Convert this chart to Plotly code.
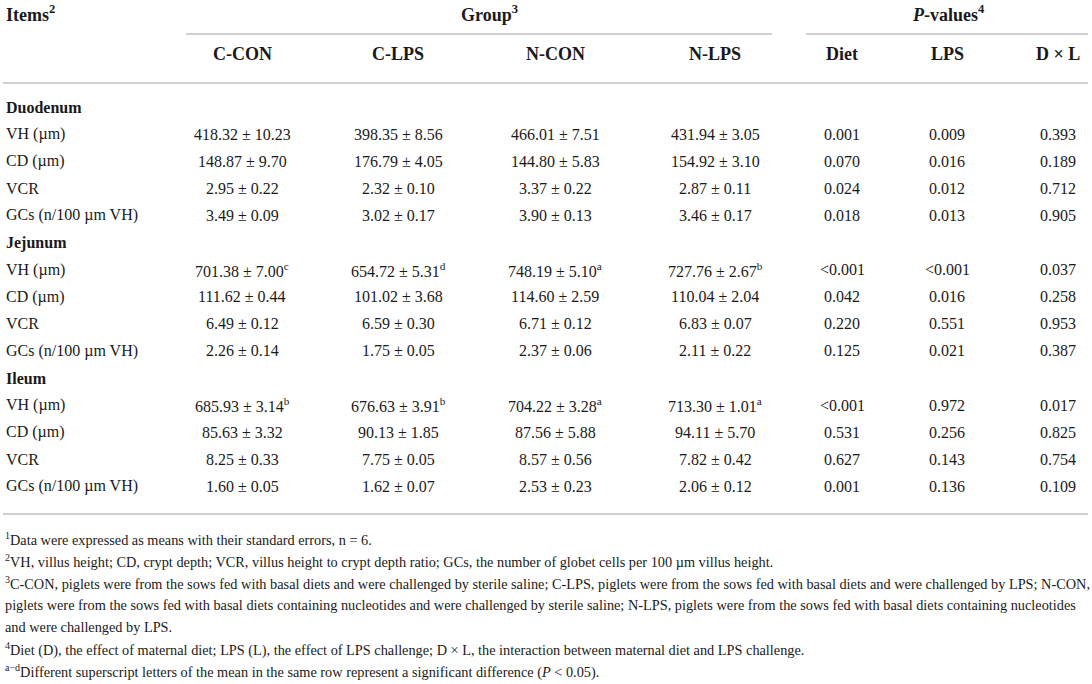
import plotly.graph_objects as go

# table content
sections = ["Duodenum", "Jejunum", "Ileum"]
items = ["VH (µm)", "CD (µm)", "VCR", "GCs (n/100 µm VH)"]
groups = ["C-CON", "C-LPS", "N-CON", "N-LPS"]
effects = ["Diet", "LPS", "D × L"]

duodenum_mean = [[418.32, 398.35, 466.01, 431.94],
                 [148.87, 176.79, 144.80, 154.92],
                 [2.95, 2.32, 3.37, 2.87],
                 [3.49, 3.02, 3.90, 3.46]]
duodenum_se = [[10.23, 8.56, 7.51, 3.05],
               [9.70, 4.05, 5.83, 3.10],
               [0.22, 0.10, 0.22, 0.11],
               [0.09, 0.17, 0.13, 0.17]]
duodenum_sup = [["", "", "", ""]] * 4
duodenum_p = [["0.001", "0.009", "0.393"],
              ["0.070", "0.016", "0.189"],
              ["0.024", "0.012", "0.712"],
              ["0.018", "0.013", "0.905"]]

jejunum_mean = [[701.38, 654.72, 748.19, 727.76],
                [111.62, 101.02, 114.60, 110.04],
                [6.49, 6.59, 6.71, 6.83],
                [2.26, 1.75, 2.37, 2.11]]
jejunum_se = [[7.00, 5.31, 5.10, 2.67],
              [0.44, 3.68, 2.59, 2.04],
              [0.12, 0.30, 0.12, 0.07],
              [0.14, 0.05, 0.06, 0.22]]
jejunum_sup = [["c", "d", "a", "b"]] + [["", "", "", ""]] * 3
jejunum_p = [["<0.001", "<0.001", "0.037"],
             ["0.042", "0.016", "0.258"],
             ["0.220", "0.551", "0.953"],
             ["0.125", "0.021", "0.387"]]

ileum_mean = [[685.93, 676.63, 704.22, 713.30],
              [85.63, 90.13, 87.56, 94.11],
              [8.25, 7.75, 8.57, 7.82],
              [1.60, 1.62, 2.53, 2.06]]
ileum_se = [[3.14, 3.91, 3.28, 1.01],
            [3.32, 1.85, 5.88, 5.70],
            [0.33, 0.05, 0.56, 0.42],
            [0.05, 0.07, 0.23, 0.12]]
ileum_sup = [["b", "b", "a", "a"]] + [["", "", "", ""]] * 3
ileum_p = [["<0.001", "0.972", "0.017"],
           ["0.531", "0.256", "0.825"],
           ["0.627", "0.143", "0.754"],
           ["0.001", "0.136", "0.109"]]

footnotes = [
    "<sup>1</sup>Data were expressed as means with their standard errors, n = 6.",
    "<sup>2</sup>VH, villus height; CD, crypt depth; VCR, villus height to crypt depth ratio; GCs, the number of globet cells per 100 µm villus height.",
    "<sup>3</sup>C-CON, piglets were from the sows fed with basal diets and were challenged by sterile saline; C-LPS, piglets were from the sows fed with basal diets and were challenged by LPS; N-CON,",
    "piglets were from the sows fed with basal diets containing nucleotides and were challenged by sterile saline; N-LPS, piglets were from the sows fed with basal diets containing nucleotides",
    "and were challenged by LPS.",
    "<sup>4</sup>Diet (D), the effect of maternal diet; LPS (L), the effect of LPS challenge; D × L, the interaction between maternal diet and LPS challenge.",
    "<sup>a−d</sup>Different superscript letters of the mean in the same row represent a significant difference (<i>P</i> &lt; 0.05).",
]

FONT = "Liberation Serif"
INK = "#1a1a1a"
RULE = "#d0d0d0"

group_x = [242, 398, 555, 715]
effect_x = [842, 947, 1058]
row_h = 27.1

fig = go.Figure()
fig.add_trace(go.Scatter(x=[0, 1092], y=[0, 684], mode="markers",
                         marker=dict(opacity=0), hoverinfo="skip", showlegend=False))

ann = []


def txt(x, y, s, anchor="center", bold=False, size=16):
    if bold:
        s = "<b>" + s + "</b>"
    ann.append(dict(x=x, y=y, xref="x", yref="y", text=s, showarrow=False,
                    xanchor=anchor, yanchor="middle",
                    font=dict(family=FONT, size=size, color=INK)))


# header
txt(4, 13, "Items<sup>2</sup>", anchor="left", bold=True, size=18)
txt(489, 13, "Group<sup>3</sup>", bold=True, size=18)
txt(948, 13, "<i>P</i>-values<sup>4</sup>", bold=True, size=18)
for gx, g in zip(group_x, groups):
    txt(gx, 54, g, bold=True, size=18)
for ex, e in zip(effect_x, effects):
    txt(ex, 54, e, bold=True, size=18)

blocks = [
    (duodenum_mean, duodenum_se, duodenum_sup, duodenum_p),
    (jejunum_mean, jejunum_se, jejunum_sup, jejunum_p),
    (ileum_mean, ileum_se, ileum_sup, ileum_p),
]

y = 107
for name, (mean, se, sup, pv) in zip(sections, blocks):
    txt(4, y, name, anchor="left", bold=True)
    y += row_h
    for i, item in enumerate(items):
        txt(4, y, item, anchor="left")
        for j, gx in enumerate(group_x):
            s = f"{mean[i][j]:.2f} ± {se[i][j]:.2f}"
            if sup[i][j]:
                s += f"<sup>{sup[i][j]}</sup>"
            txt(gx, y, s)
        for k, ex in enumerate(effect_x):
            txt(ex, y, pv[i][k].replace("<", "&lt;"))
        y += row_h

fy = 539
for line in footnotes:
    txt(3, fy, line, anchor="left", size=14.3)
    fy += 22

shapes = [
    dict(type="line", x0=186, x1=772, y0=34, y1=34, xref="x", yref="y",
         line=dict(color=RULE, width=2)),
    dict(type="line", x0=806, x1=1088, y0=34, y1=34, xref="x", yref="y",
         line=dict(color=RULE, width=2)),
    dict(type="line", x0=3, x1=1088, y0=83, y1=83, xref="x", yref="y",
         line=dict(color=RULE, width=2)),
    dict(type="line", x0=3, x1=1088, y0=514, y1=514, xref="x", yref="y",
         line=dict(color=RULE, width=2)),
]

fig.update_layout(
    width=1092, height=684,
    margin=dict(l=0, r=0, t=0, b=0),
    paper_bgcolor="white", plot_bgcolor="white",
    xaxis=dict(range=[0, 1092], visible=False, fixedrange=True),
    yaxis=dict(range=[684, 0], visible=False, fixedrange=True),
    annotations=ann, shapes=shapes,
    showlegend=False,
)

# drop the browser's default body margin so the 1092x684 figure fills the window
fig.write_html("out.html", config={"displayModeBar": False},
               post_script="document.body.style.margin='0';document.body.style.overflow='hidden';")
